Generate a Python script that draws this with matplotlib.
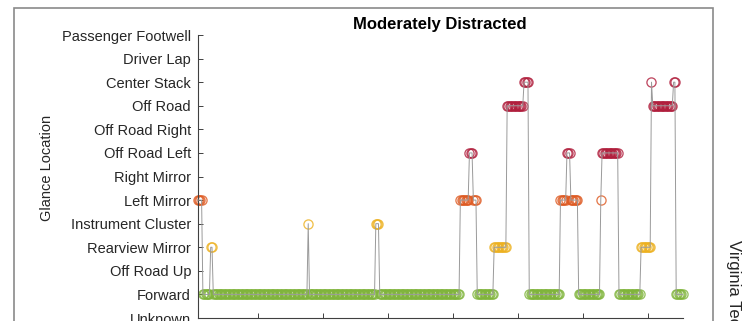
import numpy as np
import matplotlib.pyplot as plt
from matplotlib.patches import Rectangle

plt.rcParams['font.family'] = ['Liberation Sans', 'DejaVu Sans']

# y axis categories, bottom to top
locations = ['Unknown', 'Forward', 'Off Road Up', 'Rearview Mirror',
             'Instrument Cluster', 'Left Mirror', 'Right Mirror',
             'Off Road Left', 'Off Road Right', 'Off Road', 'Center Stack',
             'Driver Lap', 'Passenger Footwell']

seg_location = ['Left Mirror', 'Forward', 'Rearview Mirror', 'Forward',
                'Instrument Cluster', 'Forward', 'Instrument Cluster', 'Forward',
                'Left Mirror', 'Off Road Left', 'Left Mirror', 'Forward',
                'Rearview Mirror', 'Off Road', 'Center Stack', 'Forward',
                'Left Mirror', 'Off Road Left', 'Left Mirror', 'Forward',
                'Left Mirror', 'Off Road Left', 'Forward', 'Rearview Mirror',
                'Center Stack', 'Off Road', 'Center Stack', 'Forward']
seg_start = [0.4, 0.8, 1.4, 1.6, 8.9, 9.0, 14.1, 14.4,
             20.6, 21.3, 21.6, 21.9, 23.2, 24.2, 25.5, 25.9,
             28.3, 28.8, 29.1, 29.7, 31.4, 31.5, 32.8, 34.5,
             35.3, 35.4, 37.0, 37.2]
seg_end = [0.7, 1.3, 1.5, 8.8, 8.9, 14.0, 14.3, 20.5,
           21.2, 21.5, 21.8, 23.1, 24.1, 25.4, 25.8, 28.2,
           28.7, 29.0, 29.6, 31.3, 31.4, 32.7, 34.4, 35.2,
           35.3, 36.9, 37.1, 37.7]
sample_period = 0.1

loc_colors = {
    'Forward': '#7FB43A',
    'Rearview Mirror': '#EDB120',
    'Instrument Cluster': '#EDB120',
    'Left Mirror': '#DE5A22',
    'Off Road Left': '#B01E3C',
    'Off Road': '#B01E3C',
    'Center Stack': '#B01E3C',
}

# expand segments into samples
times, codes, names = [], [], []
for loc, s, e in zip(seg_location, seg_start, seg_end):
    n = int(round((e - s) / sample_period)) + 1
    for k in range(n):
        times.append(round(s + k * sample_period, 2))
        codes.append(locations.index(loc))
        names.append(loc)
times = np.array(times)
codes = np.array(codes)
names = np.array(names)

W, H = 753, 321
fig = plt.figure(figsize=(W / 100, H / 100), dpi=100)
ax = fig.add_axes([197.7 / W, 3 / H, 485 / W, 283 / H])

ax.plot(times, codes, color='#9a9a9a', lw=0.7, zorder=3, clip_on=False)
for loc, col in loc_colors.items():
    m = names == loc
    ax.plot(times[m], codes[m], 'o', ms=6.6, mfc='none', mec=col, mew=0.95,
            alpha=0.8, zorder=2, clip_on=False)

ax.set_xlim(0.4, 37.7)
ax.set_ylim(0, 12)
ax.set_xticks(np.arange(5, 36, 5))
ax.set_xticklabels([])
ax.set_yticks(range(len(locations)))
ax.set_yticklabels(locations)
for sp in ['top', 'right']:
    ax.spines[sp].set_visible(False)
for sp in ['left', 'bottom']:
    ax.spines[sp].set_color('#404040')
    ax.spines[sp].set_linewidth(0.8)
ax.tick_params(direction='in', length=3.6, width=0.7, color='#404040',
               labelsize=10.5, labelcolor='#262626', pad=4.8)

ax.set_title('Moderately Distracted', fontweight='bold', fontsize=12, pad=4.3)
fig.text(46.7 / W, 1 - 167.5 / H, 'Glance Location', rotation=90,
         ha='center', va='center', fontsize=10.5, color='#262626')
fig.text(733 / W, 1 - 240 / H, 'Virginia Tech', rotation=270,
         ha='center', va='top', fontsize=12, color='#262626')

fig.patches.append(Rectangle((14 / W, -0.1), (713 - 14) / W, 1.1 - 8 / H,
                             transform=fig.transFigure, fill=False,
                             ec='#8a8a8a', lw=1.2))

fig.savefig('out.png', dpi=100)
